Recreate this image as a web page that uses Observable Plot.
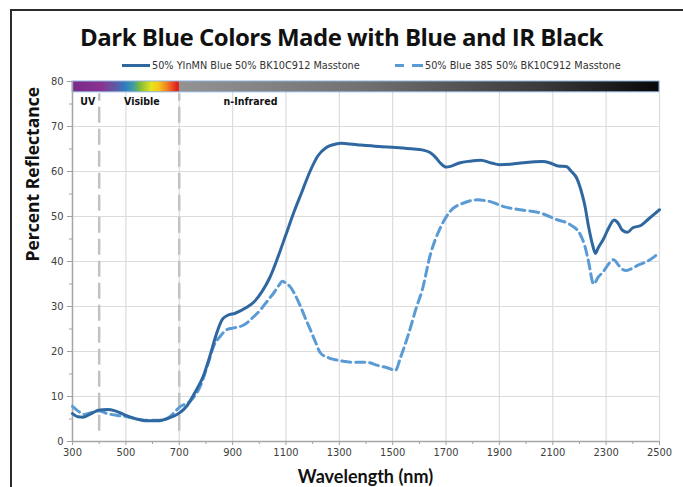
<!DOCTYPE html>
<html>
<head>
<meta charset="utf-8">
<script src="https://cdn.jsdelivr.net/npm/d3@7"></script>
<script src="https://cdn.jsdelivr.net/npm/@observablehq/plot@0.6"></script>
<style>
  html, body { margin: 0; padding: 0; background: #fff; }
  #wrap { position: relative; width: 683px; height: 487px; overflow: hidden; }
  #frame { position: absolute; left: 10px; top: 9px; width: 700px; height: 500px;
           border-left: 2px solid #2b2b2b; border-top: 2px solid #2b2b2b; pointer-events: none; }
  #header { position: relative; height: 75px; }
  #title { position: absolute; left: 0; width: 683px; top: 22px; text-align: center;
           font-family: "Open Sans", sans-serif; font-weight: 700; font-size: 24px;
           letter-spacing: -0.5px; color: #111; line-height: 30px; }
  #legend { position: absolute; top: 58px; left: 0; width: 683px; height: 14px;
            font-family: "DejaVu Sans Condensed", "Liberation Sans Narrow", sans-serif;
            font-size: 10.8px; color: #333; }
  .item { position: absolute; top: 0; display: flex; align-items: center; height: 14px; white-space: nowrap; }
  .sw { width: 28px; height: 0; margin-right: 2px; }
  #chart svg { display: block; }
  #xlabel { position: relative; margin-left: 72px; width: 587px; height: 22px; line-height: 22px;
            text-align: center; font-family: Lato, sans-serif; font-weight: 700; font-size: 18px; color: #111; }
</style>
</head>
<body>
<div id="wrap">
  <div id="header">
    <div id="title">Dark Blue Colors Made with Blue and IR Black</div>
    <div id="legend"></div>
  </div>
  <div id="chart"></div>
  <div id="xlabel">Wavelength (nm)</div>
  <div id="frame"></div>
</div>
<script>
// ---- data ----
const seriesNames = ["50% YInMN Blue 50% BK10C912 Masstone", "50% Blue 385 50% BK10C912 Masstone"];
const seriesColors = ["#2f67a0", "#5b9bd5"];

const solidNm = [300,320,340,370,400,430,460,500,540,580,620,660,700,730,760,790,815,840,860,880,910,950,980,1010,1040,1070,1100,1130,1160,1190,1220,1250,1280,1310,1340,1380,1420,1460,1500,1540,1580,1610,1640,1660,1680,1700,1720,1750,1790,1830,1870,1900,1940,1980,2020,2060,2090,2120,2150,2170,2190,2205,2220,2235,2250,2260,2270,2290,2310,2330,2345,2360,2380,2400,2430,2460,2490,2500];
const solidPct = [6.2,5.5,5.4,6.2,7.0,7.1,6.8,5.8,5.0,4.6,4.6,5.2,6.3,8.0,11.0,14.5,19.0,24.0,27.0,28.0,28.5,29.7,31.0,33.3,36.5,41.0,46.0,51.0,55.5,60.0,63.5,65.3,66.0,66.3,66.1,65.9,65.7,65.5,65.4,65.2,65.0,64.8,64.2,63.2,61.8,61.0,61.2,61.9,62.3,62.5,61.9,61.5,61.6,61.9,62.1,62.2,61.9,61.2,61.1,60.0,58.5,56.0,52.5,47.5,43.5,41.8,43.0,45.0,47.5,49.2,48.5,47.0,46.5,47.5,48.0,49.5,51.0,51.5];

const dashedNm = [300,320,345,375,400,430,470,505,540,580,630,667,690,705,742,779,805,829,854,880,910,942,975,1005,1030,1054,1075,1086,1100,1117,1135,1154,1172,1191,1210,1229,1260,1291,1320,1354,1400,1450,1480,1510,1530,1560,1590,1610,1641,1678,1716,1766,1816,1866,1916,1978,2053,2115,2165,2203,2220,2234,2253,2270,2290,2310,2328,2345,2360,2375,2391,2420,2453,2490,2500];
const dashedPct = [7.8,6.8,6.0,6.5,6.8,6.2,5.8,5.5,5.0,4.7,4.7,5.6,7.0,7.8,9.0,12.3,16.7,21.2,23.4,24.9,25.3,25.9,27.5,29.3,31.2,33.0,34.8,35.6,35.2,34.3,32.5,30.1,27.5,24.9,22.2,19.7,18.6,18.1,17.8,17.6,17.6,16.8,16.4,15.8,18.8,24.0,30.0,33.5,41.5,47.4,51.2,53.0,53.7,53.3,52.2,51.5,50.8,49.3,48.2,46.0,43.5,40.0,35.0,36.5,37.8,39.5,40.4,39.3,38.3,38.0,38.3,39.2,40.0,41.5,42.0];

const xTicks = [300,500,700,900,1100,1300,1500,1700,1900,2100,2300,2500];
const xMinorTicks = [400,600,800,1000,1200,1400,1600,1800,2000,2200,2400];
const yTicks = [0,10,20,30,40,50,60,70,80];
const yMinorTicks = [5,15,25,35,45,55,65,75];

const regionDividers = [400, 700];
const regionLabels = ["UV", "Visible", "n-Infrared"];
const regionLabelNm = [357, 560, 967];

const spectrumBand = [{x1: 300, x2: 2500, y1: 77.6, y2: 80}];
const spectrumOffsets = [0, 0.05, 0.075, 0.09, 0.105, 0.115, 0.135, 0.147, 0.16, 0.178, 0.1818, 0.183, 0.5, 0.8, 1];
const spectrumColors = ["#7a2a8a", "#8a3391", "#5d5aa6", "#2f7cc2", "#3f9fa0", "#7cba3c", "#e6e41c", "#f5c81a", "#f38a22", "#e2231d", "#e2231d", "#939393", "#707070", "#3a3a3a", "#080808"];

// ---- build tables ----
const solid = solidNm.map((d, i) => ({nm: d, pct: solidPct[i]}));
const dashed = dashedNm.map((d, i) => ({nm: d, pct: dashedPct[i]}));
const labels = regionLabels.map((t, i) => ({t, nm: regionLabelNm[i]}));

// ---- legend ----
const legend = document.getElementById("legend");
const legendLeft = [122, 395];
seriesNames.forEach((name, i) => {
  const it = document.createElement("div");
  it.className = "item";
  it.style.left = legendLeft[i] + "px";
  const sw = document.createElement("div");
  sw.className = "sw";
  sw.style.borderTop = `3px solid ${seriesColors[i]}`;
  if (i === 1) { sw.style.borderTop = "none"; sw.style.height = "3px";
    sw.style.background = `linear-gradient(to right, ${seriesColors[1]} 0 9px, transparent 9px 17px, ${seriesColors[1]} 17px 28px)`; }
  const tx = document.createElement("span");
  tx.textContent = name;
  it.appendChild(sw); it.appendChild(tx);
  legend.appendChild(it);
});

// ---- chart ----
const font = '"DejaVu Sans Condensed", "Liberation Sans Narrow", sans-serif';
const chart = Plot.plot({
  width: 683,
  height: 390,
  marginLeft: 72,
  marginRight: 24,
  marginTop: 6,
  marginBottom: 24,
  style: {fontFamily: font, fontSize: "11px", color: "#404040", background: "transparent"},
  x: {domain: [300, 2500]},
  y: {domain: [0, 80]},
  marks: [
    Plot.gridX(xTicks, {stroke: "#dcdcdc", strokeOpacity: 1, strokeWidth: 1.2}),
    Plot.gridY(yTicks, {stroke: "#dcdcdc", strokeOpacity: 1, strokeWidth: 1.2}),
    Plot.rect(spectrumBand, {x1: "x1", x2: "x2", y1: "y1", y2: "y2", fill: "url(#spectrumGrad)", stroke: "#8fb2da", strokeWidth: 1}),
    Plot.ruleX(regionDividers, {y1: 2.3, y2: 77.3, stroke: "#c2c2c2", strokeWidth: 2.5, strokeDasharray: "16,6"}),
    Plot.text(labels, {x: "nm", y: 75.6, text: "t", fontWeight: "bold", fontSize: 10.5, fill: "#111"}),
    Plot.axisX(xTicks, {tickSize: 4, tickPadding: 3, stroke: "#a0a0a0", fill: "#404040", fontSize: 11, label: null, tickFormat: d3.format("d")}),
    Plot.axisX(xMinorTicks, {tickSize: 3, text: null, stroke: "#a0a0a0", label: null}),
    Plot.axisY(yTicks, {tickSize: 5, tickPadding: 4, stroke: "#a0a0a0", fill: "#404040", fontSize: 11, label: null}),
    Plot.axisY(yMinorTicks, {tickSize: 3, text: null, stroke: "#a0a0a0", label: null}),
    Plot.ruleY([0], {stroke: "#a6a6a6", strokeWidth: 1.5}),
    Plot.ruleX([300], {stroke: "#a6a6a6", strokeWidth: 1.5}),
    Plot.line(dashed, {x: "nm", y: "pct", stroke: seriesColors[1], strokeWidth: 3, strokeDasharray: "9,5", curve: "monotone-x"}),
    Plot.line(solid, {x: "nm", y: "pct", stroke: seriesColors[0], strokeWidth: 3, curve: "monotone-x"}),
    Plot.text(["Percent Reflectance"], {frameAnchor: "left", dx: -39, rotate: -90, fontWeight: "bold", fontSize: 17.5, fill: "#111", fontFamily: '"Open Sans", sans-serif'})
  ]
});

const defs = d3.select(chart).insert("defs", ":first-child");
const grad = defs.append("linearGradient").attr("id", "spectrumGrad").attr("x1", "0").attr("x2", "1").attr("y1", "0").attr("y2", "0");
spectrumOffsets.forEach((o, i) => grad.append("stop").attr("offset", o).attr("stop-color", spectrumColors[i]));

document.getElementById("chart").appendChild(chart);
</script>
</body>
</html>
